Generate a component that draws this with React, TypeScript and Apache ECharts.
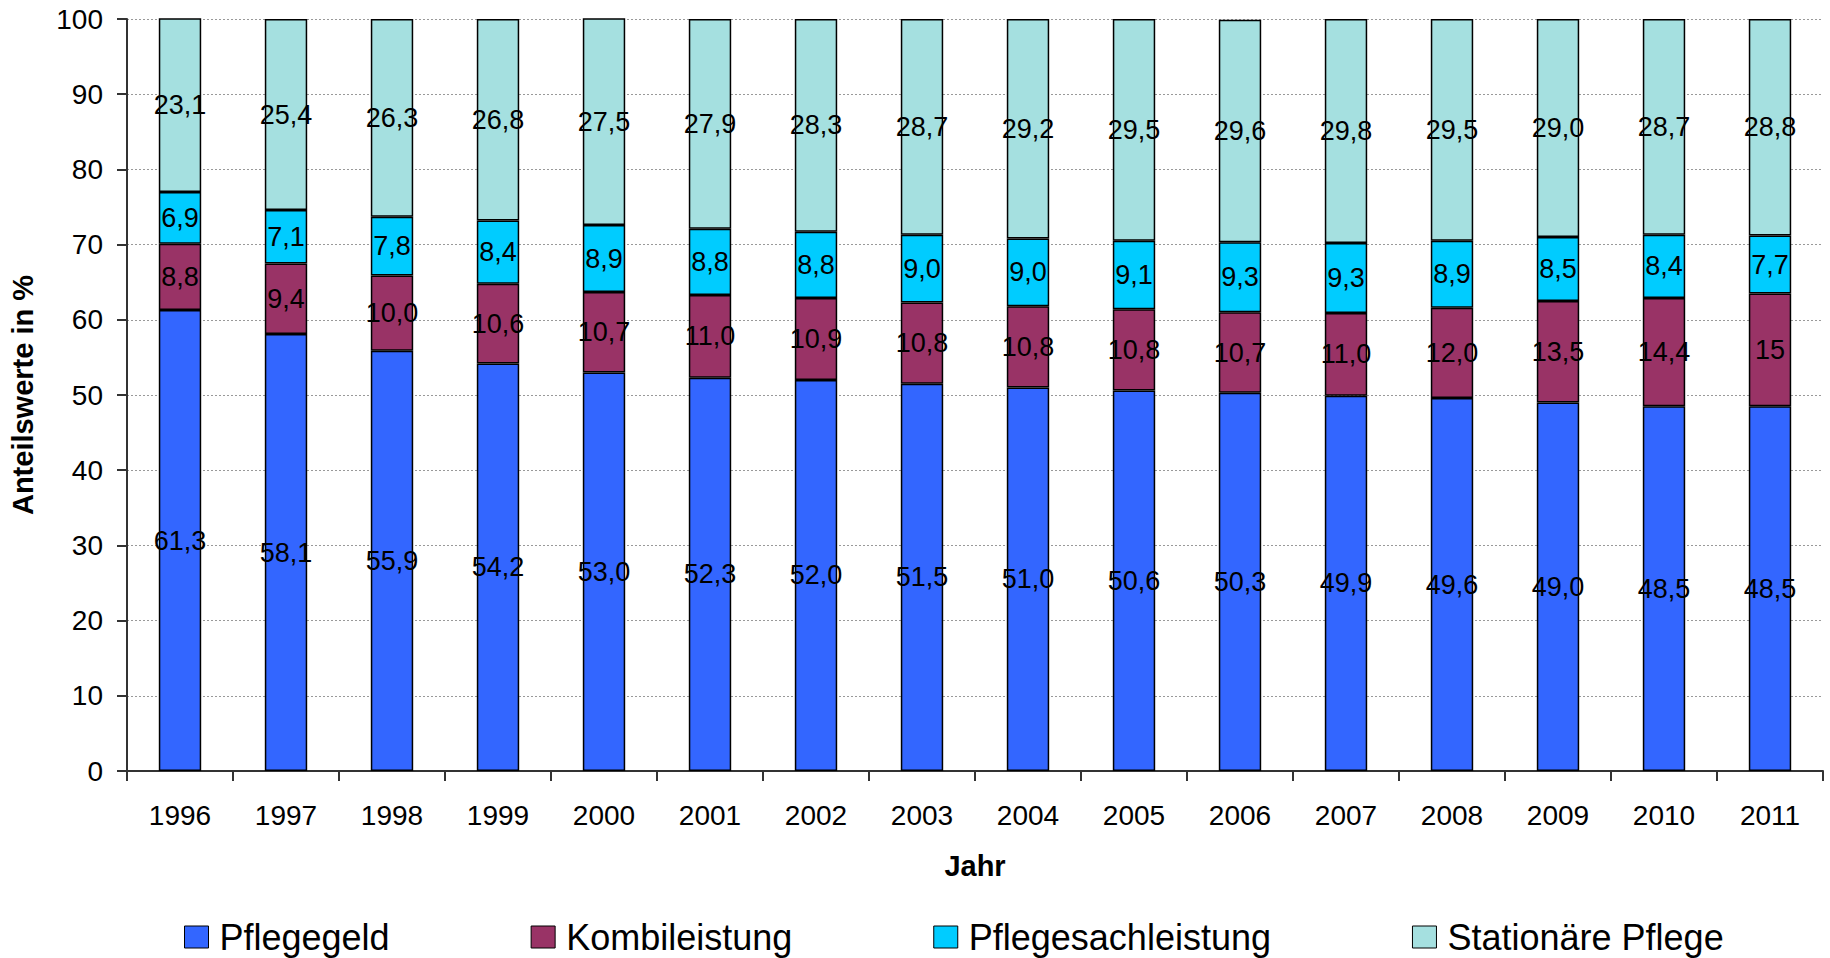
import React, { useEffect, useRef } from "react";
import * as echarts from "echarts";

// Shares of benefit types per year (percent)
const years = ["1996", "1997", "1998", "1999", "2000", "2001", "2002", "2003", "2004", "2005", "2006", "2007", "2008", "2009", "2010", "2011"];
const pflegegeld = [61.3, 58.1, 55.9, 54.2, 53.0, 52.3, 52.0, 51.5, 51.0, 50.6, 50.3, 49.9, 49.6, 49.0, 48.5, 48.5];
const kombileistung = [8.8, 9.4, 10.0, 10.6, 10.7, 11.0, 10.9, 10.8, 10.8, 10.8, 10.7, 11.0, 12.0, 13.5, 14.4, 15];
const pflegesachleistung = [6.9, 7.1, 7.8, 8.4, 8.9, 8.8, 8.8, 9.0, 9.0, 9.1, 9.3, 9.3, 8.9, 8.5, 8.4, 7.7];
const stationaerePflege = [23.1, 25.4, 26.3, 26.8, 27.5, 27.9, 28.3, 28.7, 29.2, 29.5, 29.6, 29.8, 29.5, 29.0, 28.7, 28.8];
const yTicks = [0, 10, 20, 30, 40, 50, 60, 70, 80, 90, 100];

// Values printed without a decimal place
const wholeNumberLabels = new Set(["Kombileistung|2011"]);

const FONT = "'Liberation Sans', Arial, Helvetica, sans-serif";

const seriesDefs = [
  { name: "Pflegegeld", data: pflegegeld, color: "#3366FF" },
  { name: "Kombileistung", data: kombileistung, color: "#993366" },
  { name: "Pflegesachleistung", data: pflegesachleistung, color: "#00CCFF" },
  { name: "Stationäre Pflege", data: stationaerePflege, color: "#A5E0E0" },
];

export default function App() {
  const ref = useRef<HTMLDivElement>(null);

  useEffect(() => {
    if (!ref.current) return;
    const chart = echarts.init(ref.current, null, { renderer: "svg" });

    chart.setOption({
      animation: false,
      backgroundColor: "#ffffff",
      textStyle: { fontFamily: FONT, color: "#000" },
      grid: { left: 127, right: 7, top: 19, bottom: 187, containLabel: false },
      legend: {
        left: 184,
        top: 919,
        padding: 0,
        itemWidth: 24,
        itemHeight: 22,
        itemGap: 141,
        icon: "rect",
        itemStyle: { borderColor: "#000", borderWidth: 1 },
        textStyle: { fontSize: 36, fontFamily: FONT, color: "#000", padding: [0, 0, 0, 6] },
        data: seriesDefs.map((s) => s.name),
      },
      xAxis: {
        type: "category",
        data: years,
        boundaryGap: true,
        name: "Jahr",
        nameLocation: "middle",
        nameGap: 80,
        nameTextStyle: { fontSize: 29, fontWeight: "bold", fontFamily: FONT, color: "#000" },
        axisLine: { show: true, lineStyle: { color: "#333", width: 2 } },
        axisTick: { show: true, alignWithLabel: false, length: 10, lineStyle: { color: "#333", width: 2 } },
        axisLabel: { fontSize: 28, color: "#000", margin: 30, fontFamily: FONT },
        splitLine: { show: false },
      },
      yAxis: {
        type: "value",
        min: yTicks[0],
        max: yTicks[yTicks.length - 1],
        interval: 10,
        name: "Anteilswerte in %",
        nameLocation: "middle",
        nameRotate: 90,
        nameGap: 90,
        nameTextStyle: { fontSize: 29, fontWeight: "bold", fontFamily: FONT, color: "#000" },
        axisLine: { show: true, lineStyle: { color: "#333", width: 2 } },
        axisTick: { show: true, length: 10, lineStyle: { color: "#333", width: 2 } },
        axisLabel: { fontSize: 28, color: "#000", margin: 24, fontFamily: FONT },
        splitLine: { show: true, lineStyle: { color: "#999", width: 1, type: [2, 2] } },
      },
      series: seriesDefs.map((s) => ({
        name: s.name,
        type: "bar",
        stack: "total",
        barWidth: "40%",
        data: s.data,
        itemStyle: { color: s.color, borderColor: "#000", borderWidth: 1.5 },
        label: {
          show: true,
          position: "inside",
          fontSize: 27,
          fontFamily: FONT,
          color: "#000",
          formatter: (p: any) => {
            const key = `${s.name}|${p.name}`;
            const v = Number(p.value);
            const txt = wholeNumberLabels.has(key) ? v.toFixed(0) : v.toFixed(1);
            return txt.replace(".", ",");
          },
        },
        emphasis: { disabled: true },
      })),
    });

    return () => chart.dispose();
  }, []);

  return (
    <div
      ref={ref}
      style={{ position: "absolute", left: 0, top: 0, width: 1830, height: 958, background: "#fff" }}
    />
  );
}
